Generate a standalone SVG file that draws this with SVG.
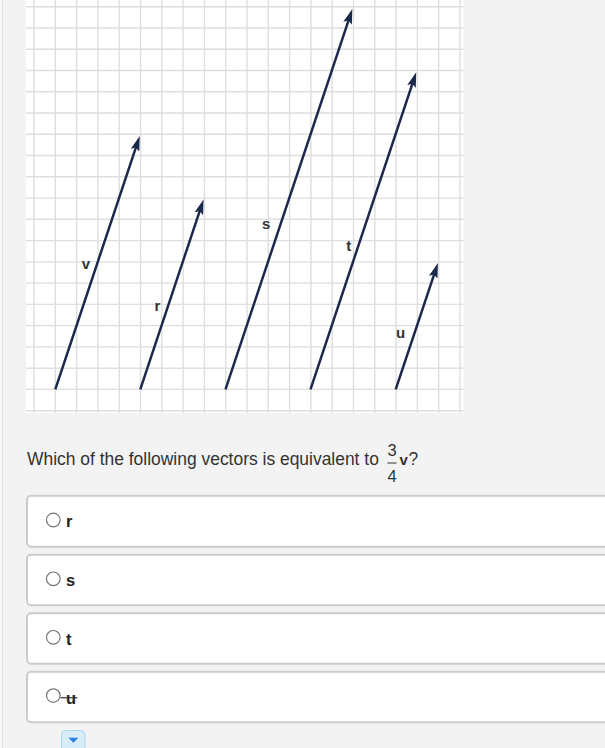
<svg xmlns="http://www.w3.org/2000/svg" width="605" height="748" viewBox="0 0 605 748">
<style>
.grid{stroke:#dedede;stroke-width:1.4;fill:none}
.vec{stroke:#1b2a4a;stroke-width:2.5;fill:none;marker-end:url(#ah)}
.lbl{font-family:"Liberation Sans",Arial,sans-serif;font-size:15px;font-weight:bold;fill:#333;text-anchor:middle}
.q{font-family:"Liberation Sans",Arial,sans-serif;font-size:17.45px;fill:#333}
.box{fill:#fff;stroke:#cccccc;stroke-width:2}
.radio{fill:#fff;stroke:#767676;stroke-width:1.2}
.opt{font-family:"Liberation Sans",Arial,sans-serif;font-size:16.5px;font-weight:bold;fill:#222}
</style>
<defs>
<marker id="ah" markerUnits="userSpaceOnUse" markerWidth="15" markerHeight="9" viewBox="0 0 15 9" refX="7" refY="4.5" orient="auto">
<path d="M0,0 L15,4.5 L0,9 L3,4.5 Z" fill="#1b2a4a"/>
</marker>
</defs>
<rect x="0" y="0" width="605" height="748" fill="#f3f3f3"/>
<rect x="0" y="0" width="2" height="748" fill="#f8f8f8"/>
<line x1="2.5" y1="0" x2="2.5" y2="748" stroke="#e2e2e2" stroke-width="1"/>
<g id="grid">
<rect x="26" y="0" width="437.5" height="413" fill="#fff"/>
<path class="grid" d="M34,0V413M55.3,0V413M76.6,0V413M97.9,0V413M119.2,0V413M140.5,0V413M161.8,0V413M183.1,0V413M204.4,0V413M225.7,0V413M247,0V413M268.3,0V413M289.6,0V413M310.9,0V413M332.2,0V413M353.5,0V413M374.8,0V413M396.1,0V413M417.4,0V413M438.7,0V413M460,0V413"/>
<path class="grid" d="M26,6.7H463.5M26,28H463.5M26,49.2H463.5M26,70.5H463.5M26,91.8H463.5M26,113H463.5M26,134.3H463.5M26,155.5H463.5M26,176.8H463.5M26,198.1H463.5M26,219.3H463.5M26,240.6H463.5M26,261.9H463.5M26,283.1H463.5M26,304.4H463.5M26,325.6H463.5M26,346.9H463.5M26,368.2H463.5M26,389.4H463.5M26,410.7H463.5"/>
</g>
<g id="connectors">
<g id="vec-v"><line class="vec" x1="55.3" y1="389.3" x2="137.2" y2="143.6"/><text class="lbl" x="86" y="269">v</text></g>
<g id="vec-r"><line class="vec" x1="140.3" y1="389.3" x2="201" y2="207.1"/><text class="lbl" x="157.3" y="310.5">r</text></g>
<g id="vec-s"><line class="vec" x1="225.5" y1="389.3" x2="349.8" y2="16.6"/><text class="lbl" x="266.2" y="229">s</text></g>
<g id="vec-t"><line class="vec" x1="310.5" y1="389.3" x2="413.7" y2="79.9"/><text class="lbl" x="348.8" y="251">t</text></g>
<g id="vec-u"><line class="vec" x1="395.7" y1="389.3" x2="435.4" y2="270.6"/><text class="lbl" x="400.7" y="338">u</text></g>
</g>
<g id="question">
<text class="q" x="27" y="465">Which of the following vectors is equivalent to</text>
<text x="392" y="455.5" font-family="Liberation Sans,Arial,sans-serif" font-size="16.5" fill="#333" text-anchor="middle">3</text>
<line x1="387.5" y1="463" x2="396.5" y2="463" stroke="#333" stroke-width="1"/>
<text x="392" y="482" font-family="Liberation Sans,Arial,sans-serif" font-size="16.5" fill="#333" text-anchor="middle">4</text>
<text x="399.5" y="465" font-family="Liberation Sans,Arial,sans-serif" font-size="15" font-weight="bold" fill="#333">v</text>
<text class="q" x="408.5" y="465">?</text>
</g>
<g id="option-r">
<rect class="box" x="27" y="495.7" width="600" height="51" rx="4"/>
<circle class="radio" cx="53.3" cy="520" r="6.8"/>
<text class="opt" x="66" y="527.4">r</text>
</g>
<g id="option-s">
<rect class="box" x="27" y="554.7" width="600" height="50.5" rx="4"/>
<circle class="radio" cx="53.3" cy="578.8" r="6.8"/>
<text class="opt" x="66" y="586.4">s</text>
</g>
<g id="option-t">
<rect class="box" x="27" y="613.2" width="600" height="50.5" rx="4"/>
<circle class="radio" cx="53.3" cy="637.3" r="6.8"/>
<text class="opt" x="66" y="645">t</text>
</g>
<g id="option-u">
<rect class="box" x="27" y="671.8" width="600" height="50.5" rx="4"/>
<circle class="radio" cx="53.3" cy="695.6" r="6.8"/>
<text class="opt" x="66" y="704">u</text>
<line x1="60.5" y1="697.7" x2="77.5" y2="697.7" stroke="#333" stroke-width="1.2"/>
</g>
<g id="dropdown">
<rect x="61.5" y="730.5" width="23.5" height="22" rx="4" fill="#d7eefa" stroke="#aad8f0" stroke-width="1"/>
<path d="M68.4,737.7 L78.4,737.7 L73.4,742.8 Z" fill="#2c7fe0"/>
</g>
</svg>
